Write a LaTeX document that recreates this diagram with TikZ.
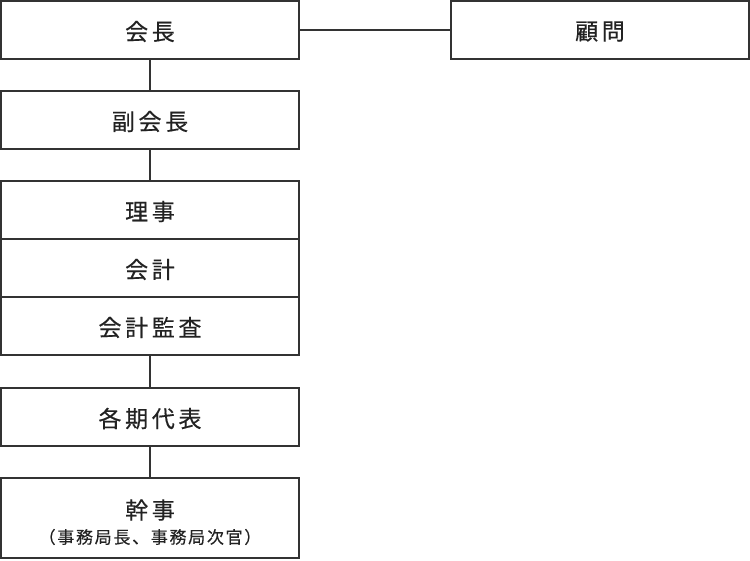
\documentclass[tikz,border=0pt]{standalone}
\usepackage{fontspec}
\setmainfont{Noto Sans CJK JP}
\newfontfamily\jptitle[LetterSpace=16, FakeBold=0.4]{Noto Sans CJK JP}
\newfontfamily\jpsub[LetterSpace=10, FakeBold=0.3]{Noto Sans CJK JP}
\definecolor{linegray}{HTML}{333333}
\definecolor{textgray}{HTML}{222222}
\begin{document}
\begin{tikzpicture}[x=1pt, y=-1pt,
  every node/.style={text=textgray},
  post/.style={draw=linegray, line width=1.5pt, minimum width=298pt, minimum height=58pt,
    inner sep=0pt},
  title/.style={font=\jptitle\fontsize{23}{26}\selectfont},
  link/.style={draw=linegray, line width=1.3pt}]
\useasboundingbox (0,0) rectangle (750,561);
\node[post] (kaicho) at (150,30) {};
\node[post] (komon) at (600,30) {};
\node[post] (fuku) at (150,120) {};
\foreach \name/\y in {riji/210, kaikei/268, kansa/326}
  {\node[post] (\name) at (150,\y) {};}
\node[post] (daihyo) at (150,417) {};
\node[post, minimum height=80pt] (kanji) at (150,518) {};
% labels
\foreach \name/\lab in {kaicho/会長, komon/顧問, fuku/副会長, riji/理事, kaikei/会計, kansa/会計監査, daihyo/各期代表}
  {\node[title] (\name-lab) at ([yshift=-1.5pt]\name.center) {\lab};}
\node[title] (kanji-lab) at (150,510) {幹事};
\node (kanji-sub) at (150,537) {\jpsub\fontsize{17}{20}\selectfont （事務局長、事務局次官）};
\draw[link] (kaicho.east) -- (komon.west);
\draw[link] (kaicho) -- (fuku);
\draw[link] (fuku) -- (riji);
\draw[link] (kansa) -- (daihyo);
\draw[link] (daihyo) -- (kanji);
\end{tikzpicture}
\end{document}
